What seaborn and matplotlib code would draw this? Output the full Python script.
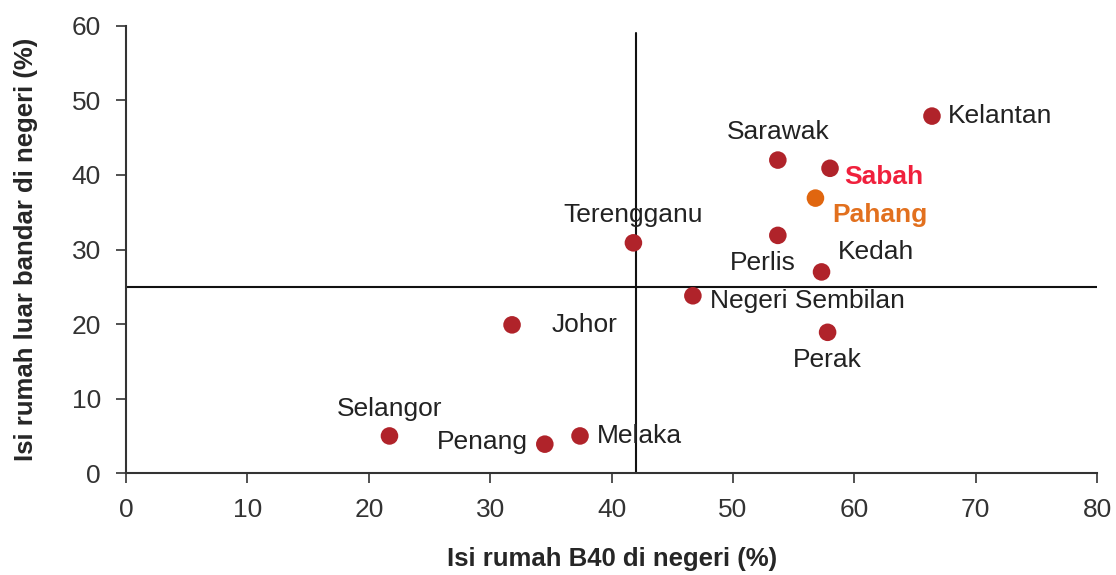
import pandas as pd
import seaborn as sns
import matplotlib.pyplot as plt

# State data: share of B40 households vs share of rural households
states = ['Kelantan', 'Sarawak', 'Sabah', 'Pahang', 'Perlis', 'Kedah', 'Terengganu',
          'Negeri Sembilan', 'Perak', 'Johor', 'Selangor', 'Penang', 'Melaka']
b40 = [66.4, 53.7, 58.0, 56.8, 53.7, 57.3, 41.8, 46.7, 57.8, 31.8, 21.7, 34.5, 37.4]
rural = [47.9, 42.0, 40.9, 36.9, 31.9, 27.0, 30.9, 23.8, 18.9, 19.9, 5.0, 3.9, 5.0]
group = ['other'] * 3 + ['Pahang'] + ['other'] * 9

# Median lines
x_line = 42
y_line = 25

data = pd.DataFrame({'state': states, 'b40': b40, 'rural': rural, 'group': group})

# label placement: offset in pixels, alignment
label_pos = {
    'Kelantan': (16, 0, 'left', 'center'),
    'Sarawak': (0, 28, 'center', 'center'),
    'Sabah': (14, -9, 'left', 'center'),
    'Pahang': (17, -17, 'left', 'center'),
    'Perlis': (-15, -28, 'center', 'center'),
    'Kedah': (16, 20, 'left', 'center'),
    'Terengganu': (0, 28, 'center', 'center'),
    'Negeri Sembilan': (17, -5, 'left', 'center'),
    'Perak': (0, -28, 'center', 'center'),
    'Johor': (40, 0, 'left', 'center'),
    'Selangor': (0, 27, 'center', 'center'),
    'Penang': (-17, 2, 'right', 'center'),
    'Melaka': (17, 0, 'left', 'center'),
}
label_style = {
    'Sabah': dict(color='#f0203c', fontweight='bold'),
    'Pahang': dict(color='#e2701e', fontweight='bold'),
}

sns.set_style('white')
plt.rcParams['font.family'] = ['Liberation Sans', 'DejaVu Sans']

fig, ax = plt.subplots(figsize=(11.16, 5.75), dpi=100)
fig.subplots_adjust(left=0.113, right=0.983, bottom=0.177, top=0.955)

ax.axvline(x_line, ymin=0, ymax=59 / 60, color='#111111', lw=1.5, zorder=1)
ax.axhline(y_line, color='#111111', lw=1.5, zorder=1)

sns.scatterplot(data=data, x='b40', y='rural', hue='group',
                palette={'other': '#b0232a', 'Pahang': '#e0660f'},
                s=160, edgecolor='none', legend=False, ax=ax, zorder=3)

for name, xv, yv in zip(states, b40, rural):
    dx, dy, ha, va = label_pos[name]
    style = label_style.get(name, dict(color='#222222'))
    ax.annotate(name, (xv, yv), xytext=(dx, dy), textcoords='offset pixels',
                ha=ha, va=va, fontsize=19, **style)

ax.set_xlim(0, 80)
ax.set_ylim(0, 60)
ax.set_xticks(range(0, 81, 10))
ax.set_yticks(range(0, 61, 10))
ax.tick_params(axis='both', labelsize=19, colors='#333333', length=7, width=1.2,
               direction='out', bottom=True, left=True, pad=11)
for side in ['top', 'right']:
    ax.spines[side].set_visible(False)
for side in ['left', 'bottom']:
    ax.spines[side].set_color('#333333')
    ax.spines[side].set_linewidth(1.5)

ax.set_xlabel('Isi rumah B40 di negeri (%)', fontsize=18.5, fontweight='bold', labelpad=18)
ax.set_ylabel('Isi rumah luar bandar di negeri (%)', fontsize=18.5, fontweight='bold', labelpad=24)

fig.savefig('out.png', dpi=100)
